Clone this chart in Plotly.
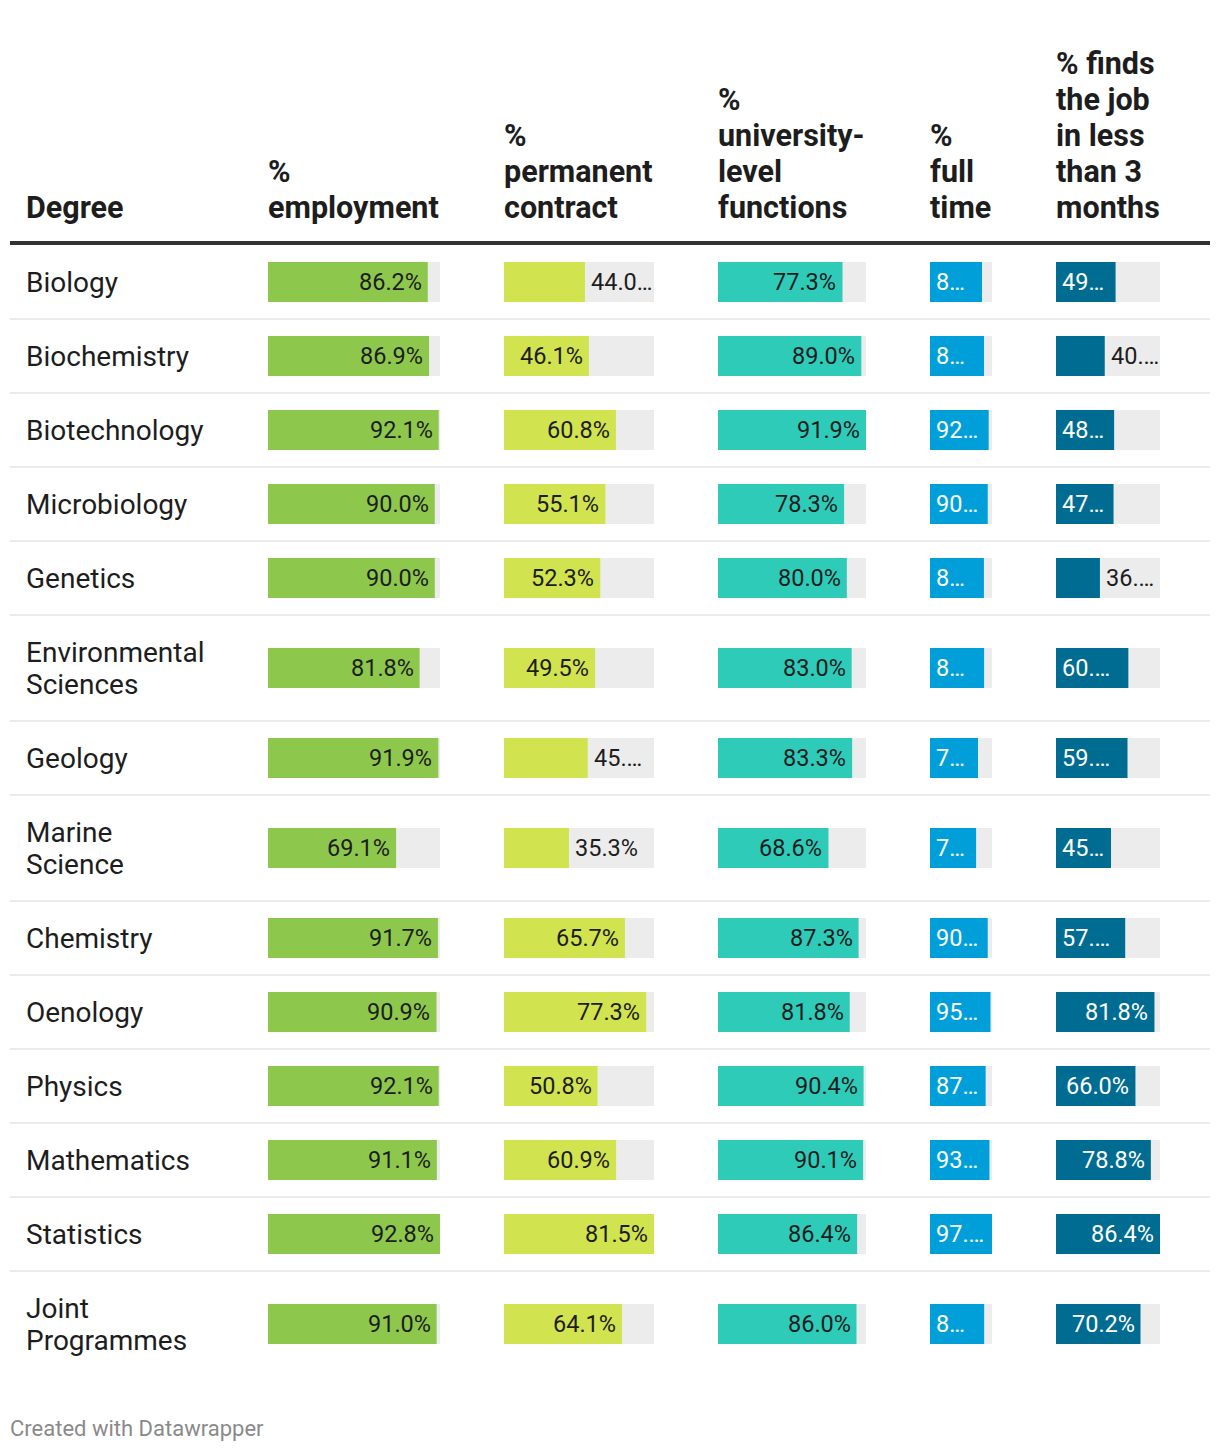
import plotly.graph_objects as go

# ---------------- data ----------------
degrees = ["Biology", "Biochemistry", "Biotechnology", "Microbiology", "Genetics",
           "Environmental<br>Sciences", "Geology", "Marine<br>Science", "Chemistry",
           "Oenology", "Physics", "Mathematics", "Statistics", "Joint<br>Programmes"]
employment = [86.2, 86.9, 92.1, 90.0, 90.0, 81.8, 91.9, 69.1, 91.7, 90.9, 92.1, 91.1, 92.8, 91.0]
permanent = [44.0, 46.1, 60.8, 55.1, 52.3, 49.5, 45.5, 35.3, 65.7, 77.3, 50.8, 60.9, 81.5, 64.1]
university = [77.3, 89.0, 91.9, 78.3, 80.0, 83.0, 83.3, 68.6, 87.3, 81.8, 90.4, 90.1, 86.4, 86.0]
full_time = [81.8, 85.0, 92.3, 90.8, 84.8, 85.1, 75.5, 72.5, 90.8, 95.1, 87.5, 93.5, 97.5, 85.2]
within_3_months = [49.5, 40.5, 48.3, 47.8, 36.5, 60.1, 59.4, 45.7, 57.5, 81.8, 66.0, 78.8, 86.4, 70.2]
header_degree = "Degree"
headers = ["%<br>employment", "%<br>permanent<br>contract", "%<br>university-<br>level<br>functions",
           "%<br>full<br>time", "% finds<br>the job<br>in less<br>than 3<br>months"]
footer = "Created with Datawrapper"

# ---------------- styles / layout ----------------
W, H = 1220, 1452
FONT = "Roboto, Arial, sans-serif"
DARK = "#1d1d1d"
BG_BAR = "#ececec"
col_px = [(268, 440), (504, 654), (718, 866), (930, 992), (1056, 1160)]
col_colors = ["#8dc84d", "#d1e34f", "#2ecbb9", "#009fda", "#006c92"]
col_text_in = [DARK, DARK, DARK, "#ffffff", "#ffffff"]
series = [employment, permanent, university, full_time, within_3_months]

TABLE_TOP = 245       # below header rule
ROW_PAD, LINE_H = 42, 32
BAR_H = 40
LABEL_PX = 22         # size used for fit estimate
VALUE_FONT = 23.5
ROW_FONT = 28
HEAD_FONT = 30.5
HEAD_LINE_H = 36
HEAD_BASE_Y = 207
LABEL_X = 25

# row geometry derived from number of label lines
heights = [ROW_PAD + LINE_H * (d.count("<br>") + 1) for d in degrees]
tops = []
acc = TABLE_TOP
for h in heights:
    tops.append(acc)
    acc += h
centers = [t + h / 2 for t, h in zip(tops, heights)]
bottoms = [t + h for t, h in zip(tops, heights)]

# label fitting (approximate Roboto advance widths, em)
CHAR_W = {**{d: 0.5615 for d in "0123456789"}, ".": 0.263, "%": 0.715, "…": 0.636}


def text_w(s):
    return sum(CHAR_W[c] for c in s) * LABEL_PX


def fit(label, avail):
    if text_w(label) <= avail:
        return label
    for n in range(len(label) - 1, 0, -1):
        t = label[:n] + "…"
        if text_w(t) <= avail:
            return t
    return label[0] + "…"


def place(v, vmax, width_px):
    bar = v / vmax * width_px
    room = width_px - bar
    label = f"{v:.1f}%"
    if room >= 65.7:
        return "out", fit(label, room - 10.6)
    if bar >= 78:
        return "in_end", label
    if bar >= room:
        return "in_start", fit(label, bar - 16.1)
    return "out", fit(label, room - 10.6)


fig = go.Figure()
annotations = []
layout_axes = {}

for i, (vals, (x0, x1), color, tcol) in enumerate(zip(series, col_px, col_colors, col_text_in)):
    ax = "x" if i == 0 else f"x{i + 1}"
    axname = "xaxis" if i == 0 else f"xaxis{i + 1}"
    vmax = max(vals)
    width_px = x1 - x0
    fig.add_trace(go.Bar(orientation="h", x=[vmax] * len(vals), y=centers, width=BAR_H,
                         marker=dict(color=BG_BAR, line=dict(width=0)),
                         xaxis=ax, yaxis="y", hoverinfo="skip"))
    fig.add_trace(go.Bar(orientation="h", x=vals, y=centers, width=BAR_H,
                         marker=dict(color=color, line=dict(width=0)),
                         xaxis=ax, yaxis="y", hoverinfo="skip"))
    layout_axes[axname] = dict(domain=[x0 / W, x1 / W], range=[0, vmax], visible=False,
                               fixedrange=True, anchor="y")
    for v, yc in zip(vals, centers):
        mode, txt = place(v, vmax, width_px)
        if mode == "in_end":
            a = dict(x=v, xanchor="right", xshift=-5, font=dict(color=tcol))
        elif mode == "in_start":
            a = dict(x=0, xanchor="left", xshift=5, font=dict(color=tcol))
        else:
            a = dict(x=v, xanchor="left", xshift=5, font=dict(color=DARK))
        a["font"].update(size=VALUE_FONT, family=FONT)
        annotations.append(dict(text=txt, xref=ax, yref="y", y=yc, yanchor="middle",
                                showarrow=False, borderpad=0, **a))

# row labels (one annotation per line, fixed line height)
for d, yc in zip(degrees, centers):
    lines = d.split("<br>")
    n = len(lines)
    for k, ln in enumerate(lines):
        annotations.append(dict(text=ln, xref="paper", x=LABEL_X / W, xanchor="left", yref="y",
                                y=yc + (k - (n - 1) / 2) * LINE_H, yanchor="middle",
                                showarrow=False, borderpad=0,
                                font=dict(size=ROW_FONT, family=FONT, color=DARK)))

# headers (bottom-aligned, one annotation per line)
head_items = [(header_degree, LABEL_X)] + [(h, c[0] - 1) for h, c in zip(headers, col_px)]
for htxt, xpx in head_items:
    lines = htxt.split("<br>")
    n = len(lines)
    for k, ln in enumerate(lines):
        annotations.append(dict(text=f"<b>{ln}</b>", xref="paper", x=xpx / W, xanchor="left",
                                yref="y", y=HEAD_BASE_Y - (n - 1 - k) * HEAD_LINE_H,
                                yanchor="middle", showarrow=False, borderpad=0,
                                font=dict(size=HEAD_FONT, family=FONT, color=DARK)))

# footer
annotations.append(dict(text=footer, xref="paper", x=9 / W, xanchor="left", yref="y", y=1428,
                        yanchor="middle", showarrow=False, borderpad=0,
                        font=dict(size=22, family=FONT, color="#8a8a8a")))

shapes = [dict(type="line", xref="paper", x0=10 / W, x1=1210 / W, yref="y",
               y0=TABLE_TOP - 2, y1=TABLE_TOP - 2, line=dict(color="#333333", width=4))]
for b in bottoms[:-1]:
    shapes.append(dict(type="line", xref="paper", x0=10 / W, x1=1210 / W, yref="y",
                       y0=b, y1=b, line=dict(color="#ebebeb", width=2), layer="below"))

fig.update_layout(
    width=W, height=H, margin=dict(l=0, r=0, t=0, b=0),
    paper_bgcolor="white", plot_bgcolor="white",
    barmode="overlay", showlegend=False,
    yaxis=dict(range=[H, 0], domain=[0, 1], visible=False, fixedrange=True, anchor="x"),
    annotations=annotations, shapes=shapes,
    **layout_axes,
)

fig.write_html("out.html", config={"displayModeBar": False},
               post_script="document.body.style.margin='0';")
